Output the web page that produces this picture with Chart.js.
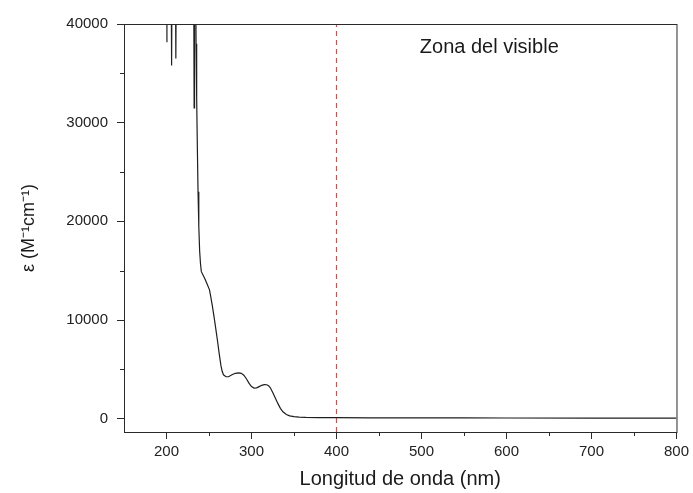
<!DOCTYPE html>
<html>
<head>
<meta charset="utf-8">
<script src="https://cdn.jsdelivr.net/npm/chart.js@4.4.1/dist/chart.umd.min.js"></script>
<style>
  html, body { margin: 0; padding: 0; background: #fff; }
  #wrap { width: 693px; height: 493px; }
</style>
</head>
<body>
<div id="wrap"><canvas id="spectrum"></canvas></div>
<script>
// espectro UV-vis (>40000 = fuera de escala)
const wavelengths = [200, 200.5, 205.5, 206, 206.5, 210.5, 211, 211.5, 232, 232.5, 233, 234.3,
  234.8, 235.5, 236.3, 237.1, 238, 239, 240, 241, 245, 248, 250.6, 252, 254, 256, 258, 260, 262, 264, 265.5, 267,
  270, 273, 277, 281, 285, 288, 291, 294, 297, 300, 303, 306, 309, 312, 315, 318, 320, 322,
  325, 328, 331, 334, 337, 341, 345, 350, 356, 364, 380, 400, 440, 500, 550, 600, 700, 750, 800];
const epsilon = [38200, 45000, 45000, 35800, 45000, 45000, 36500, 45000, 45000, 31500, 45000, 45000,
  38000, 32500, 27500, 23000, 19500, 17000, 15700, 14900, 14200, 13600, 13060, 12400, 11400, 10300, 9100, 7900, 6600, 5400, 4800, 4450,
  4250, 4250, 4450, 4600, 4650, 4600, 4400, 4050, 3600, 3250, 3100, 3120, 3250, 3380, 3450, 3440, 3350, 3150,
  2650, 2100, 1550, 1050, 700, 430, 280, 200, 160, 130, 110, 100, 90, 80, 80, 70, 60, 60, 55];

const visibleEdge = 400;           // límite del visible (nm)
const visibleLabel = 'Zona del visible';
const visibleLabelAt = [498, 37600]; // nm, epsilon

const xTicks = [200, 300, 400, 500, 600, 700, 800];
const xMinorTicks = [250, 350, 450, 550, 650, 750];
const yTicks = [0, 10000, 20000, 30000, 40000];
const yMinorTicks = [5000, 15000, 25000, 35000];

const xRange = [150, 800];
const yRange = [-1350, 40000];

const axisColor = '#2a2a2a';
const fontFamily = '"Liberation Sans", Arial, sans-serif';

// marco completo + ticks menores + texto
const framePlugin = {
  id: 'frame',
  afterDraw(chart) {
    const { ctx, chartArea: a, scales } = chart;
    ctx.save();
    ctx.strokeStyle = axisColor;
    ctx.lineWidth = 1;
    ctx.strokeRect(a.left + 0.5, a.top + 0.5, a.right - a.left, a.bottom - a.top);

    ctx.beginPath();
    xMinorTicks.forEach(v => {
      const px = Math.round(scales.x.getPixelForValue(v)) + 0.5;
      ctx.moveTo(px, a.bottom);
      ctx.lineTo(px, a.bottom + 4);
    });
    yMinorTicks.forEach(v => {
      const py = Math.round(scales.y.getPixelForValue(v)) + 0.5;
      ctx.moveTo(a.left, py);
      ctx.lineTo(a.left - 4, py);
    });
    ctx.stroke();

    ctx.fillStyle = '#1a1a1a';
    ctx.font = '20px ' + fontFamily;
    ctx.textAlign = 'left';
    ctx.textBaseline = 'middle';
    ctx.fillText(visibleLabel,
      scales.x.getPixelForValue(visibleLabelAt[0]),
      scales.y.getPixelForValue(visibleLabelAt[1]));
    ctx.restore();
  }
};

const spectrum = wavelengths.map((w, i) => ({ x: w, y: epsilon[i] }));
const edgeLine = [{ x: visibleEdge, y: yRange[0] }, { x: visibleEdge, y: yRange[1] }];

new Chart(document.getElementById('spectrum'), {
  type: 'line',
  data: {
    datasets: [
      {
        data: spectrum,
        borderColor: '#1e1e1e',
        borderWidth: 1.2,
        pointRadius: 0,
        tension: 0,
        fill: false
      },
      {
        data: edgeLine,
        borderColor: '#e04848',
        borderWidth: 1.2,
        borderDash: [5, 4],
        pointRadius: 0,
        fill: false
      }
    ]
  },
  options: {
    responsive: true,
    maintainAspectRatio: false,
    animation: false,
    events: [],
    layout: { padding: { left: 0, right: 14, top: 24, bottom: 0 } },
    plugins: {
      legend: { display: false },
      tooltip: { enabled: false }
    },
    scales: {
      x: {
        type: 'linear',
        min: xRange[0],
        max: xRange[1],
        afterBuildTicks: s => { s.ticks = xTicks.map(v => ({ value: v })); },
        afterFit: s => { s.height = 61; },
        grid: { drawOnChartArea: false, drawTicks: true, tickLength: 7, color: axisColor },
        border: { display: true, color: axisColor, width: 1 },
        ticks: {
          color: '#222',
          padding: 4,
          maxRotation: 0,
          font: { family: fontFamily, size: 15 },
          callback: v => String(v)
        },
        title: {
          display: true,
          text: 'Longitud de onda (nm)',
          color: '#1a1a1a',
          font: { family: fontFamily, size: 20 },
          padding: { top: 0, bottom: 2 }
        }
      },
      y: {
        min: yRange[0],
        max: yRange[1],
        afterBuildTicks: s => { s.ticks = yTicks.map(v => ({ value: v })); },
        afterFit: s => { s.width = 124; },
        grid: { drawOnChartArea: false, drawTicks: true, tickLength: 7, color: axisColor },
        border: { display: true, color: axisColor, width: 1 },
        ticks: {
          color: '#222',
          padding: 9,
          font: { family: fontFamily, size: 15 },
          callback: v => String(v)
        },
        title: {
          display: true,
          text: 'ε (M⁻¹cm⁻¹)',
          color: '#1a1a1a',
          font: { family: fontFamily, size: 18 },
          padding: { top: 18, bottom: 0 }
        }
      }
    }
  },
  plugins: [framePlugin]
});
</script>
</body>
</html>
